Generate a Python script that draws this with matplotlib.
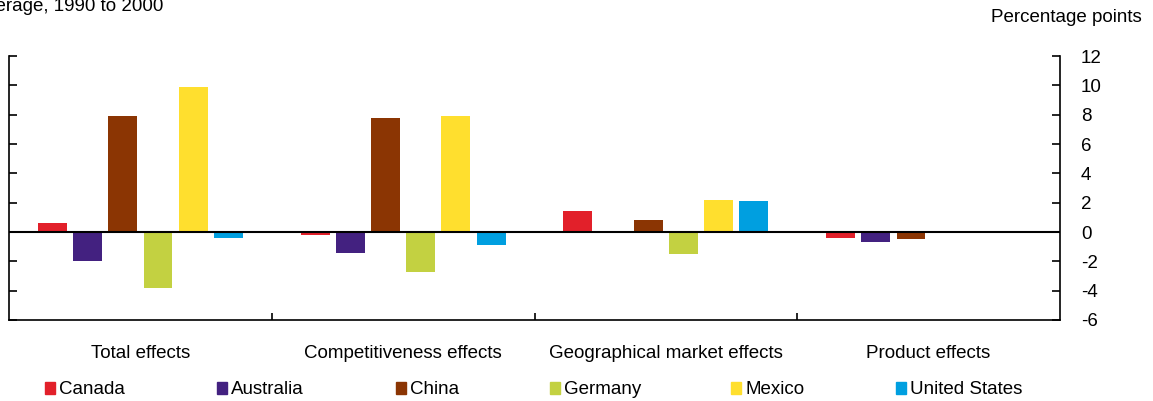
import numpy as np
import matplotlib.pyplot as plt
from matplotlib.patches import Patch

plt.rcParams["font.family"] = ["Liberation Sans", "DejaVu Sans"]
plt.rcParams["axes.unicode_minus"] = False

categories = ["Total effects", "Competitiveness effects",
              "Geographical market effects", "Product effects"]
countries = ["Canada", "Australia", "China", "Germany", "Mexico", "United States"]
colors = ["#E2202A", "#432180", "#8B3503", "#C3D141", "#FFDF2E", "#009FE0"]

canada = [0.6, -0.2, 1.4, -0.4]
australia = [-2.0, -1.4, -0.1, -0.7]
china = [7.9, 7.8, 0.8, -0.5]
germany = [-3.8, -2.7, -1.5, 0.0]
mexico = [9.9, 7.9, 2.2, 0.0]
united_states = [-0.4, -0.9, 2.1, 0.0]
series = [canada, australia, china, germany, mexico, united_states]

yticks = list(range(-6, 13, 2))
fs = 13.5

fig = plt.figure(figsize=(11.53, 4.01), dpi=100)
ax = fig.add_axes([9 / 1153, 81 / 401, 1051 / 1153, 264 / 401])

x = np.arange(len(categories))
step = 0.134
width = 0.11
for i, (vals, c) in enumerate(zip(series, colors)):
    ax.bar(x + (i - 2.5) * step, vals, width, color=c, linewidth=0)

ax.axhline(0, color="black", lw=1.5, zorder=3)
ax.set_xlim(-0.5, len(categories) - 0.5)
ax.set_ylim(-6, 12)

ax.spines["top"].set_visible(False)
for s in ["left", "right", "bottom"]:
    ax.spines[s].set_linewidth(1.2)

ax.set_yticks(yticks)
ax.yaxis.set_ticks_position("both")
ax.tick_params(axis="y", direction="in", length=6, width=1.2,
               labelleft=False, labelright=True, labelsize=fs, pad=15)

ax.set_xticks(x[:-1] + 0.5)
ax.set_xticklabels([])
ax.tick_params(axis="x", which="major", direction="in", length=5, width=1.2)
ax.set_xticks(x, minor=True)
ax.set_xticklabels(categories, minor=True)
ax.tick_params(axis="x", which="minor", length=0, labelsize=fs, pad=18)

fig.text(1142 / 1153, 1 - 18 / 401, "Percentage points", ha="right",
         va="center", fontsize=fs)
fig.text(163 / 1153, 1 - 11 / 401, "Average, 1990 to 2000", ha="right",
         va="baseline", fontsize=fs)

# legend entries sit at uneven spots in the original, so place each one
legend_x = [45, 217, 396, 550, 731, 896]
for n, c, lx in zip(countries, colors, legend_x):
    fig.legend(handles=[Patch(color=c, label=n)], loc="center left",
               bbox_to_anchor=(lx / 1153, 1 - 390 / 401), frameon=False,
               fontsize=fs, handlelength=0.55, handleheight=0.55,
               handletextpad=0.2, borderaxespad=0, borderpad=0)

fig.savefig("out.png", dpi=100)
